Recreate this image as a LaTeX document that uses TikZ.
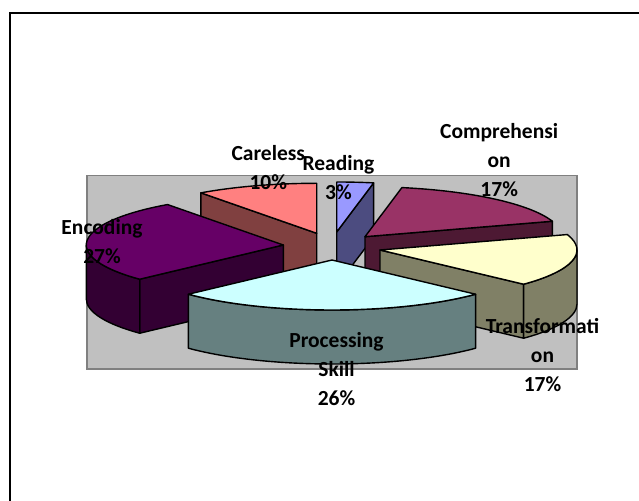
\documentclass[tikz,border=0pt]{standalone}
\usepackage{fontspec}
\setmainfont{Carlito}
\usetikzlibrary{calc}
\definecolor{carTop}{HTML}{FF8080}
\definecolor{carSide}{HTML}{804040}
\definecolor{reaTop}{HTML}{9999FF}
\definecolor{reaSide}{HTML}{4C4C80}
\definecolor{comTop}{HTML}{993366}
\definecolor{comSide}{HTML}{4D1933}
\definecolor{traTop}{HTML}{FFFFCC}
\definecolor{traSide}{HTML}{808066}
\definecolor{proTop}{HTML}{CCFFFF}
\definecolor{proSide}{HTML}{668080}
\definecolor{encTop}{HTML}{660066}
\definecolor{encSide}{HTML}{330033}
\definecolor{plotgray}{HTML}{C0C0C0}
\definecolor{plotedge}{HTML}{808080}
\tikzset{
  ell/.style={x radius=197pt,y radius=50pt},
  face/.style={draw=black,line width=1.4pt,line join=round},
  lbl/.style={anchor=base,inner sep=0pt,font=\bfseries\fontsize{21.5}{29}\selectfont}
}
\begin{document}
\begin{tikzpicture}[x=1pt,y=1pt]
\clip (0,0) rectangle (639,500);
\fill[white] (0,0) rectangle (639,500);
\draw[line width=2pt] (10,-10) -- (10,487) -- (660,487);
\draw[fill=plotgray,draw=plotedge,line width=1.5pt] (87,131) rectangle (577,324.5);

% Careless
\coordinate (cA) at (316.7,266.7);
\draw[face,fill=carSide] (cA) -- ++(126:197pt and 50pt) -- ++(0,-54) -- ($(cA)+(0,-54)$) -- cycle;
\draw[face,fill=carTop] (cA) -- ++(90:197pt and 50pt) arc[ell,start angle=90,end angle=126] -- cycle;

% Reading
\coordinate (rA) at (336.7,268);
\draw[face,fill=reaSide] (rA) -- ++(79.2:197pt and 50pt) -- ++(0,-54) -- ($(rA)+(0,-54)$) -- cycle;
\draw[face,fill=reaTop] (rA) -- ++(79.2:197pt and 50pt) arc[ell,start angle=79.2,end angle=90] -- cycle;

% Comprehension
\coordinate (mA) at (365,263.3);
\draw[face,fill=comSide] (mA) -- ++(18:197pt and 50pt) -- ++(0,-54) -- ($(mA)+(0,-54)$) -- cycle;
\draw[face,fill=comTop] (mA) -- ++(18:197pt and 50pt) arc[ell,start angle=18,end angle=79.2] -- cycle;

% Encoding
\coordinate (eA) at (283.3,255);
\draw[face,fill=encSide] (eA) -- ++(223.2:197pt and 50pt) -- ++(0,-54) -- ($(eA)+(0,-54)$) -- cycle;
\draw[face,fill=encSide] ($(eA)+(180:197pt and 50pt)$) arc[ell,start angle=180,end angle=223.2] -- ++(0,-54) arc[ell,start angle=223.2,end angle=180] -- cycle;
\draw[face,fill=encTop] (eA) -- ++(126:197pt and 50pt) arc[ell,start angle=126,end angle=223.2] -- cycle;

% Transformation
\coordinate (tA) at (380,250);
\draw[face,fill=traSide] (tA) -- ++(-43.2:197pt and 50pt) -- ++(0,-54) -- ($(tA)+(0,-54)$) -- cycle;
\draw[face,fill=traSide] ($(tA)+(-43.2:197pt and 50pt)$) arc[ell,start angle=-43.2,end angle=0] -- ++(0,-54) arc[ell,start angle=0,end angle=-43.2] -- cycle;
\draw[face,fill=traTop] (tA) -- ++(-43.2:197pt and 50pt) arc[ell,start angle=-43.2,end angle=18] -- cycle;

% Processing Skill
\coordinate (pA) at (332,240);
\draw[face,fill=proSide] ($(pA)+(-136.8:197pt and 50pt)$) arc[ell,start angle=-136.8,end angle=-43.2] -- ++(0,-54) arc[ell,start angle=-43.2,end angle=-136.8] -- cycle;
\draw[face,fill=proTop] (pA) -- ++(-136.8:197pt and 50pt) arc[ell,start angle=-136.8,end angle=-43.2] -- cycle;

% Labels
\node[lbl] (lcar) at (268.3,339.3) {\begin{tabular}[t]{@{}c@{}}Careless\\10\%\end{tabular}};
\node[lbl] (lrea) at (338.5,329.3) {\begin{tabular}[t]{@{}c@{}}Reading\\3\%\end{tabular}};
\node[lbl] (lenc) at (102,265) {\begin{tabular}[t]{@{}c@{}}Encoding\\27\%\end{tabular}};
\node[lbl] (lcom) at (499.2,361.7) {\begin{tabular}[t]{@{}c@{}}Comprehensi\\on\\17\%\end{tabular}};
\node[lbl] (ltra) at (542.5,166.7) {\begin{tabular}[t]{@{}c@{}}Transformati\\on\\17\%\end{tabular}};
\node[lbl] (lpro) at (336.5,152.3) {\begin{tabular}[t]{@{}c@{}}Processing\\Skill\\26\%\end{tabular}};
\end{tikzpicture}
\end{document}
